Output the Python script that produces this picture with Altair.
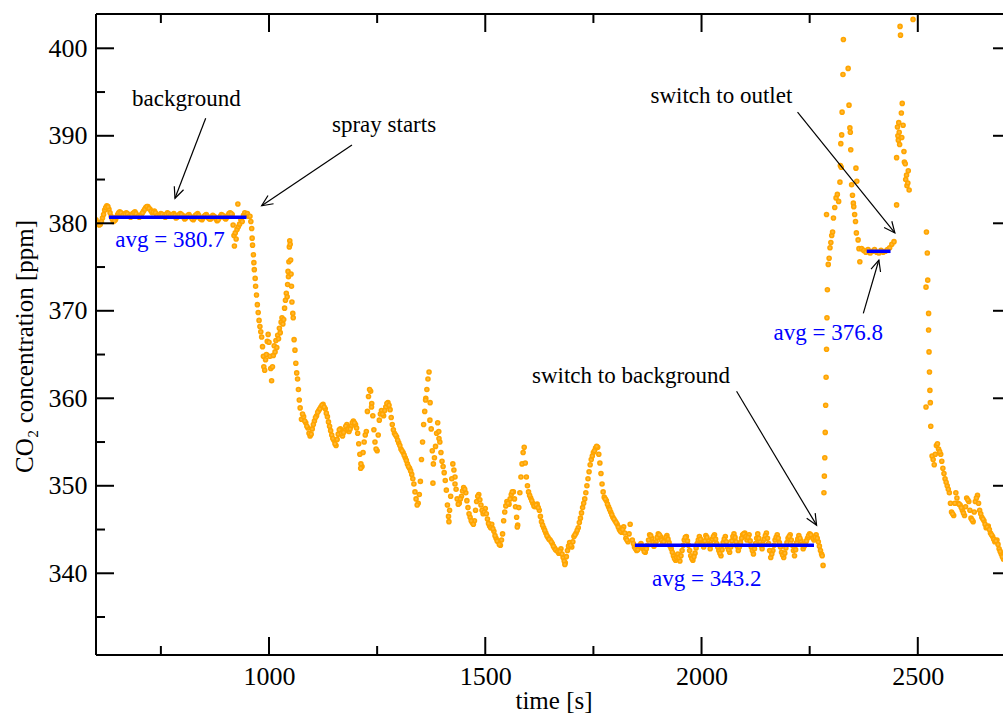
import math
import altair as alt
import pandas as pd

# ---------------- measured CO2 trace (time [s], concentration [ppm]) ----------------
# background sampling, one reading every 5 s starting at 600 s
background_co2 = [
    380.4, 380.0, 379.9, 380.6, 381.5, 382.0, 381.6, 380.8, 380.2, 380.4,
    381.0, 381.3, 381.1, 380.8, 381.2, 381.0, 380.7, 381.1, 381.3, 380.9,
    380.7, 381.0, 381.4, 381.8, 381.9, 381.6, 381.2, 381.4, 381.0, 380.8,
    381.1, 381.0, 380.7, 381.2, 381.0, 380.9, 381.1, 380.6, 380.8, 381.1,
    380.9, 380.5, 380.8, 381.0, 380.7, 380.4, 380.9, 381.1, 380.6, 380.4,
    380.8, 381.0, 380.6, 380.5, 380.9, 380.7, 380.3, 380.6, 381.0, 380.8,
    380.5, 380.9, 381.2, 381.0,
]
background_start = 600
# intermediate background readings, every 5 s from 602.5 s
background_mid_co2 = [
    380.1, 379.8, 380.2, 381.0, 381.8, 381.9, 381.2, 380.5, 380.3, 380.7,
    381.2, 381.2, 380.9, 381.0, 381.1, 380.8, 380.9, 381.2, 381.1, 380.8,
    380.8, 381.2, 381.6, 381.9, 381.7, 381.4, 381.3, 381.2, 380.9, 380.9,
    381.0, 380.8, 381.0, 381.1, 380.9, 381.0, 380.9, 380.7, 381.0, 381.0,
    380.7, 380.6, 380.9, 380.8, 380.5, 380.6, 381.0, 380.9, 380.5, 380.6,
    380.9, 380.8, 380.5, 380.7, 380.8, 380.5, 380.4, 380.8, 380.9, 380.6,
    380.7, 381.1, 381.1,
]
background_mid_start = 602.5

# spray onset and the first transient
spray_pairs = [
    (917, 379.8), (919, 378.6), (920, 377.4), (922, 378.9), (924, 378.2), (926, 379.3),
    (928, 382.2), (929, 379.6), (932, 379.9), (935, 380.4), (938, 380.2), (941, 380.9),
    (944, 381.2), (947, 380.9), (950, 381.1), (953, 380.8), (956, 380.8), (958, 380.2),
    (960, 379.4), (961, 378.3), (962, 377.5), (964, 376.4), (965, 375.5), (966, 374.7),
    (968, 373.7), (969, 372.8), (971, 371.8), (973, 370.7), (975, 369.8), (977, 368.9),
    (979, 368.2), (981, 367.6), (983, 367.0), (985, 365.9), (987, 364.8), (988, 363.6),
    (990, 363.2), (992, 364.4), (994, 365.0), (996, 366.5), (998, 367.3), (1000, 366.4),
    (1002, 364.8), (1004, 363.4), (1006, 362.0), (1008, 363.6), (1010, 364.9), (1012, 366.0),
    (1014, 365.3), (1016, 366.6), (1018, 365.8), (1020, 367.2), (1022, 366.8), (1024, 368.0),
    (1026, 367.5), (1028, 368.7), (1030, 369.2), (1032, 368.5), (1034, 369.0), (1036, 370.3),
    (1038, 371.2), (1040, 372.0), (1042, 371.6), (1043, 373.0), (1044, 374.5), (1045, 373.9),
    (1046, 375.6), (1047, 377.3), (1048, 378.0), (1049, 377.6), (1050, 375.8), (1051, 374.2),
    (1052, 372.8), (1053, 371.0), (1055, 369.7), (1056, 369.2), (1058, 366.7), (1060, 365.5),
    (1062, 364.0), (1064, 362.9), (1066, 362.2), (1068, 361.0), (1070, 359.8), (1072, 358.9),
]

# slow decay during spraying, every 5 s from 1075 s
decay_co2 = [
    357.6, 357.9, 357.2, 356.6, 355.7, 356.5, 357.4, 358.0, 358.6, 359.0,
    359.3, 358.8, 357.9, 356.8, 355.8, 355.2, 354.6, 355.9, 356.5, 355.7,
    356.3, 357.0, 356.2, 356.8, 357.4, 357.0, 356.0, 353.6, 352.2, 355.0,
    356.2, 360.2, 360.8, 358.0, 355.0, 354.0, 357.5, 358.6, 358.0, 359.0,
    359.5, 358.7, 357.0, 356.0, 355.6, 354.9, 354.2, 353.8, 353.2, 352.5,
    352.0, 351.3, 350.2, 348.5, 348.0, 350.5, 355.0, 358.5, 361.0, 363.0,
    356.5, 352.5, 354.5, 357.2, 355.0, 352.8, 351.5, 349.5, 346.5, 348.8,
    352.5, 351.0, 348.5, 348.0, 348.8, 349.8, 349.2, 347.5, 346.4, 345.8,
    346.0, 348.2, 349.0, 347.8, 346.8, 347.4, 346.2, 345.4, 345.6, 344.8,
    344.0, 343.6, 343.2, 344.5, 347.0, 348.2, 347.9, 349.0, 349.3, 347.6,
    345.5, 349.2, 352.5, 354.4, 351.0, 349.3, 348.6, 348.0, 347.6, 347.9,
    347.2, 345.9, 345.2, 344.6, 344.1, 343.8, 343.4, 342.9, 342.6, 342.3,
    342.8, 341.8, 341.2, 342.6, 343.5, 343.0, 344.2, 344.6, 345.2, 346.3,
    347.5, 348.5, 350.0, 351.6, 353.0, 353.8, 354.3, 354.4, 352.6, 350.2,
    348.7, 348.3, 347.6, 347.0, 346.4, 346.0, 345.6, 345.0, 344.7, 345.3,
    344.0, 343.6, 345.6,
]
decay_start = 1075
# intermediate decay readings, every 5 s from 1077.5 s
decay_mid_co2 = [
    358.2, 357.4, 356.8, 356.0, 355.9, 357.0, 357.8, 358.4, 358.8, 359.2,
    359.0, 358.3, 357.3, 356.3, 355.4, 354.8, 355.3, 356.4, 356.0, 356.1,
    356.8, 356.5, 356.5, 357.2, 357.2, 356.6, 354.8, 352.5, 353.8, 355.8,
    358.5, 361.0, 359.4, 356.4, 354.2, 355.8, 358.2, 358.2, 358.6, 359.4,
    359.2, 357.8, 356.4, 355.8, 355.2, 354.6, 354.0, 353.5, 352.9, 352.2,
    351.7, 350.8, 349.3, 347.8, 349.0, 353.0, 357.0, 360.0, 362.2, 359.5,
    354.0, 353.2, 356.0, 356.2, 353.8, 352.2, 350.6, 347.8, 347.2, 350.8,
    351.8, 349.6, 347.9, 348.5, 349.4, 349.6, 348.3, 346.8, 346.0, 345.6,
    347.2, 348.8, 348.4, 347.2, 347.0, 346.8, 345.7, 345.2, 345.1, 344.3,
    343.7, 343.3, 343.8, 346.0, 347.7, 348.0, 348.5, 349.3, 348.5, 346.4,
    347.5, 351.0, 353.8, 352.6, 350.0, 348.9, 348.3, 347.7, 347.8, 347.5,
    346.5, 345.5, 344.9, 344.3, 343.9, 343.6, 343.1, 342.7, 342.5, 342.5,
    342.2, 341.4, 341.9, 343.1, 343.2, 343.6, 344.4, 344.9, 345.8, 346.9,
    348.0, 349.2, 350.8, 352.4, 353.4, 354.0, 354.5, 353.6, 351.4, 349.3,
    348.5, 347.9, 347.3, 346.7, 346.2, 345.8, 345.3, 344.8, 345.0, 344.6,
    343.8, 344.5,
]
decay_mid_start = 1077.5

# scattered readings in the noisy part of the decay
decay_extra_pairs = [
    (1212, 352.0), (1237, 359.0), (1362, 359.8), (1372, 357.5), (1379, 350.3),
    (1393, 355.4), (1416, 345.9), (1430, 350.2), (1574, 345.3), (1684, 341.0),
]

# plateau after switching back to background air, every 5 s from 1840 s
plateau_co2 = [
    343.8, 343.0, 342.6, 342.9, 343.4, 342.8, 342.4, 343.2, 344.4, 344.0,
    343.1, 343.6, 344.5, 344.2, 343.4, 343.8, 344.3, 343.5, 342.8, 342.0,
    341.5, 342.2, 341.4, 342.6, 343.8, 344.2, 343.2, 342.0, 341.5, 342.3,
    343.4, 344.2, 343.6, 343.0, 344.3, 343.8, 342.8, 343.9, 344.4, 343.4,
    342.6, 342.0, 343.5, 344.2, 343.0, 342.4, 343.7, 344.5, 343.6, 342.6,
    343.5, 344.4, 344.6, 343.8, 344.4, 343.0, 342.2, 343.4, 344.5, 343.6,
    342.8, 343.9, 344.6, 343.4, 341.8, 342.6, 343.8, 344.4, 343.5, 342.4,
    341.8, 342.9, 344.0, 344.4, 343.2, 342.0, 343.5, 344.3, 343.7, 342.8,
    343.4, 344.0, 344.5, 344.2, 343.8, 344.4, 343.6, 342.6,
]
plateau_start = 1840
# intermediate plateau readings, every 5 s from 1842.5 s
plateau_mid_co2 = [
    343.4, 342.8, 342.7, 343.2, 343.1, 342.5, 342.8, 343.8, 344.3, 343.5,
    343.3, 344.1, 344.4, 343.8, 343.6, 344.1, 343.9, 343.1, 342.4, 341.7,
    341.8, 341.8, 342.0, 343.2, 344.1, 343.7, 342.6, 341.7, 341.9, 342.9,
    343.8, 343.9, 343.3, 343.7, 344.1, 343.3, 343.3, 344.2, 343.9, 343.0,
    342.3, 342.7, 343.9, 343.6, 342.7, 343.0, 344.2, 344.1, 343.1, 343.0,
    344.0, 344.5, 344.2, 344.1, 343.7, 342.6, 342.8, 344.0, 344.0, 343.2,
    343.3, 344.3, 344.0, 342.6, 342.2, 343.2, 344.1, 344.0, 343.0, 342.1,
    342.3, 343.5, 344.2, 343.8, 342.6, 342.7, 343.9, 344.0, 343.3, 343.1,
    343.7, 344.3, 344.4, 344.0, 344.1, 344.0, 343.1, 342.2,
]
plateau_mid_start = 1842.5

# switch to the outlet line
outlet_pairs = [
    (2279, 342.0), (2281, 340.9), (2283, 349.2), (2284, 351.1), (2285, 353.2), (2286, 356.1),
    (2287, 359.2), (2288, 362.4), (2289, 365.6), (2290, 369.2), (2291, 372.4), (2289, 381.0),
    (2293, 375.3), (2295, 376.0), (2297, 377.2), (2299, 377.8), (2301, 378.6), (2303, 379.0),
    (2305, 380.6), (2308, 381.8), (2311, 382.9), (2314, 383.3), (2317, 382.5), (2320, 384.7),
    (2321, 386.6), (2323, 386.4), (2322, 389.1), (2324, 390.1), (2325, 392.7), (2327, 397.0),
    (2328, 401.0), (2339, 397.7), (2341, 393.5), (2343, 390.9), (2344, 390.4), (2345, 388.4),
    (2347, 384.4), (2349, 383.2), (2351, 382.3), (2352, 381.9), (2354, 381.0), (2356, 380.2),
    (2357, 386.3), (2359, 384.8), (2358, 378.9), (2362, 378.1), (2364, 377.1), (2366, 375.6),
]

# outlet plateau, every 5 s from 2370 s
outlet_plateau_co2 = [
    377.1, 376.9, 376.7, 377.0, 376.6, 376.8, 377.0, 376.7,
    376.6, 376.9, 376.7, 376.8, 377.0, 377.2, 377.6, 377.9,
]
outlet_plateau_start = 2370

second_peak_pairs = [
    (2451, 382.1), (2451, 387.5), (2453, 391.0), (2454, 390.0), (2455, 389.5), (2456, 391.5),
    (2457, 390.4), (2458, 389.0), (2459, 402.5), (2460, 401.5), (2462, 392.6), (2463, 389.8),
    (2464, 393.7), (2466, 391.2), (2468, 388.2), (2469, 387.0), (2471, 386.8), (2472, 385.0),
    (2474, 385.5), (2475, 384.3), (2477, 384.6), (2478, 386.0), (2480, 383.8), (2489, 403.3),
]

tail_pairs = [
    (2519, 372.7), (2519, 359.0), (2520, 379.0), (2522, 376.6), (2523, 373.5), (2525, 369.7),
    (2525, 367.8), (2526, 365.3), (2527, 363.0), (2528, 360.9), (2529, 359.5), (2530, 356.8),
]

# final decay, every 5 s from 2533 s
tail_co2 = [
    353.4, 352.4, 354.6, 354.2, 353.6, 352.0, 350.8, 350.0, 349.2, 347.0,
    346.6, 349.2, 348.0, 347.8, 347.2, 346.6, 348.6, 348.2, 346.3, 345.9,
    348.2, 348.9, 347.2, 346.4, 346.0, 345.2, 345.4, 344.6, 344.2, 343.6,
    343.8, 342.8, 342.2, 341.6,
]
tail_start = 2533
# intermediate tail readings, every 5 s from 2535.5 s
tail_mid_co2 = [
    353.0, 353.6, 354.8, 353.9, 352.8, 351.4, 350.4, 349.6, 348.0, 346.8,
    348.0, 348.6, 347.9, 347.5, 346.9, 347.6, 348.4, 347.2, 346.1, 347.0,
    348.6, 348.0, 346.8, 346.2, 345.6, 345.3, 345.0, 344.4, 343.9, 343.7,
    343.3, 342.5, 341.9,
]
tail_mid_start = 2535.5

# averaged intervals
avg_values = [380.7, 343.2, 376.8]
avg_from = [630, 1846, 2382]
avg_to = [948, 2260, 2437]
avg_label_t = [771, 2012, 2293]
avg_label_y = [377.25, 338.6, 366.65]

# annotations and their arrows
note_text = ["background", "spray starts", "switch to outlet", "switch to background"]
note_t = [809, 1266, 2046, 1837]
note_y = [393.4, 390.45, 393.7, 361.7]

arrow_t0 = [853.6, 1191.8, 2222, 2081, 2374]
arrow_y0 = [392.0, 388.95, 392.7, 360.8, 369.7]
arrow_t1 = [782.6, 983, 2447, 2266, 2410]
arrow_y1 = [382.86, 382.0, 378.9, 345.5, 375.8]

# axis ticks
x_major = [1000, 1500, 2000, 2500]
x_minor = [750, 1250, 1750, 2250]
y_major = [340, 350, 360, 370, 380, 390, 400]
y_minor = [335, 345, 355, 365, 375, 385, 395]

# ---------------- layout ----------------
W, H = 907, 641
XMIN, XMAX = 600, 2697
YMIN, YMAX = 330.66, 403.92
FONT = "Liberation Serif, Times New Roman, Times, serif"
ORANGE = "#FFA500"
BLUE = "#0000FF"


def regular(start, values):
    return [(start + 5 * i, v) for i, v in enumerate(values)]


trace = (
    regular(background_start, background_co2)
    + regular(background_mid_start, background_mid_co2)
    + spray_pairs
    + regular(decay_start, decay_co2)
    + regular(decay_mid_start, decay_mid_co2)
    + decay_extra_pairs
    + regular(plateau_start, plateau_co2)
    + regular(plateau_mid_start, plateau_mid_co2)
    + outlet_pairs
    + regular(outlet_plateau_start, outlet_plateau_co2)
    + second_peak_pairs
    + tail_pairs
    + regular(tail_start, tail_co2)
    + regular(tail_mid_start, tail_mid_co2)
)
trace_df = pd.DataFrame(trace, columns=["t", "co2"])

avg_df = pd.DataFrame({
    "t": avg_from, "t2": avg_to, "co2": avg_values,
    "lt": avg_label_t, "ly": avg_label_y,
    "label": [f"avg = {v}" for v in avg_values],
})
note_df = pd.DataFrame({"t": note_t, "co2": note_y, "label": note_text})

kx = W / (XMAX - XMIN)
ky = H / (YMAX - YMIN)
angles = [
    math.degrees(math.atan2(-(y1 - y0) * ky, (t1 - t0) * kx)) % 360
    for t0, y0, t1, y1 in zip(arrow_t0, arrow_y0, arrow_t1, arrow_y1)
]
arrow_df = pd.DataFrame({
    "t": arrow_t0, "co2": arrow_y0, "t2": arrow_t1, "co22": arrow_y1, "ang": angles,
})

XS = alt.Scale(domain=[XMIN, XMAX], nice=False, zero=False)
YS = alt.Scale(domain=[YMIN, YMAX], nice=False, zero=False)

X_AX = alt.Axis(
    values=x_major, format="d", ticks=False, tickSize=0, domain=False, grid=False,
    labelFont=FONT, labelFontSize=26, labelColor="black", labelPadding=8,
    title="time [s]", titleFont=FONT, titleFontSize=25, titleFontWeight="normal",
    titleColor="black", titleX=457.5, titleY=53, titleBaseline="alphabetic",
    titleAlign="center",
)
Y_AX = alt.Axis(
    values=y_major, format="d", ticks=False, tickSize=0, domain=False, grid=False,
    labelFont=FONT, labelFontSize=26, labelColor="black", labelPadding=9,
    title="CO₂ concentration [ppm]", titleFont=FONT, titleFontSize=25,
    titleFontWeight="normal", titleColor="black", titleX=-64, titleY=332,
    titleBaseline="alphabetic", titleAlign="center", titleAngle=270,
)


def xenc(field):
    return alt.X(field, type="quantitative", scale=XS, axis=X_AX)


def yenc(field):
    return alt.Y(field, type="quantitative", scale=YS, axis=Y_AX)


points = alt.Chart(trace_df).mark_point(
    shape="circle", filled=True, size=16, fill="#FFB733", stroke=ORANGE,
    strokeWidth=1.6, opacity=1, clip=True
).encode(x=xenc("t"), y=yenc("co2"))

avg_lines = alt.Chart(avg_df).mark_rule(color=BLUE, strokeWidth=3.5).encode(
    x=xenc("t"), x2="t2", y=yenc("co2")
)
avg_text = alt.Chart(avg_df).mark_text(
    font=FONT, fontSize=23, color=BLUE, align="center", baseline="alphabetic"
).encode(x=xenc("lt"), y=yenc("ly"), text="label:N")

notes = alt.Chart(note_df).mark_text(
    font=FONT, fontSize=23, color="black", align="center", baseline="alphabetic"
).encode(x=xenc("t"), y=yenc("co2"), text="label:N")

arrow_lines = alt.Chart(arrow_df).mark_rule(color="black", strokeWidth=1.2).encode(
    x=xenc("t"), x2="t2", y=yenc("co2"), y2="co22"
)
arrow_heads = alt.Chart(arrow_df).mark_point(
    shape="M -1 -0.45 L 0 0 L -1 0.45", filled=False, size=484, strokeWidth=1.2,
    color="black", opacity=1
).encode(x=xenc("t2"), y=yenc("co22"), angle=alt.Angle("ang:Q", scale=None))

TICK = dict(color="black", strokeWidth=2)
xmaj_df = pd.DataFrame({"v": x_major})
xmin_df = pd.DataFrame({"v": x_minor})
ymaj_df = pd.DataFrame({"v": y_major})
ymin_df = pd.DataFrame({"v": y_minor})

ticks = [
    alt.Chart(xmaj_df).mark_rule(**TICK).encode(x=xenc("v"), y=alt.value(H - 18), y2=alt.value(H)),
    alt.Chart(xmaj_df).mark_rule(**TICK).encode(x=xenc("v"), y=alt.value(0), y2=alt.value(18)),
    alt.Chart(xmin_df).mark_rule(**TICK).encode(x=xenc("v"), y=alt.value(H - 9), y2=alt.value(H)),
    alt.Chart(xmin_df).mark_rule(**TICK).encode(x=xenc("v"), y=alt.value(0), y2=alt.value(9)),
    alt.Chart(ymaj_df).mark_rule(**TICK).encode(y=yenc("v"), x=alt.value(0), x2=alt.value(18)),
    alt.Chart(ymaj_df).mark_rule(**TICK).encode(y=yenc("v"), x=alt.value(W - 10), x2=alt.value(W)),
    alt.Chart(ymin_df).mark_rule(**TICK).encode(y=yenc("v"), x=alt.value(0), x2=alt.value(9)),
]

frame_df = pd.DataFrame({"k": [0]})
spines = [
    alt.Chart(frame_df).mark_rule(**TICK).encode(x=alt.value(0), y=alt.value(0), y2=alt.value(H)),
    alt.Chart(frame_df).mark_rule(**TICK).encode(y=alt.value(0), x=alt.value(0), x2=alt.value(W)),
    alt.Chart(frame_df).mark_rule(**TICK).encode(y=alt.value(H), x=alt.value(0), x2=alt.value(W)),
]

chart = alt.layer(
    points, avg_lines, avg_text, notes, arrow_lines, arrow_heads, *ticks, *spines
).properties(
    width=W, height=H,
    padding={"left": 96, "top": 14, "right": 0, "bottom": 60},
    autosize=alt.AutoSizeParams(type="none"),
    background="white",
).configure_view(stroke=None)

chart.save("out.html", embed_options={"renderer": "svg", "actions": False})
